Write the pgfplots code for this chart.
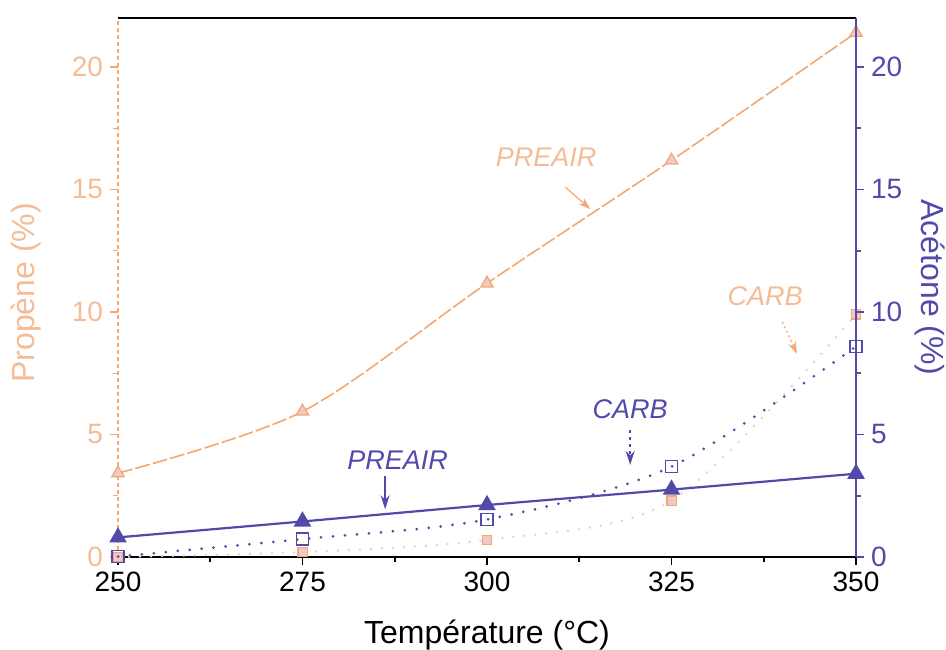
\documentclass[border=0pt]{standalone}
\usepackage{fontspec}
\setmainfont{Liberation Sans}
\usepackage{pgfplots}
\pgfplotsset{compat=1.18}
\usetikzlibrary{arrows.meta,calc}
\definecolor{lor}{RGB}{242,168,112}
\definecolor{lorl}{RGB}{244,188,150}
\definecolor{bl}{RGB}{82,74,170}
\definecolor{cpink}{RGB}{240,200,200}
\definecolor{cfaint}{RGB}{236,208,204}

\begin{document}
\begin{tikzpicture}
\pgfplotsset{
  every axis/.append style={
    scale only axis, width=369pt, height=269.5pt,
    xmin=250, xmax=350, ymin=0, ymax=22,
    clip=false,
    tick align=outside,
    major tick length=4pt, minor tick length=2.5pt,
    /pgf/number format/assume math mode=true,
    tick label style={font=\fontsize{14}{14}\selectfont},
    label style={font=\fontsize{16}{16}\selectfont},
  }
}
% ---------- left axis : Propene ----------
\begin{axis}[
  axis x line*=bottom, axis y line*=left,
  x axis line style={black, line width=1.2pt, -},
  y axis line style={lor, dash pattern=on 2pt off 1.5pt, line width=0.6pt, -},
  xtick={250,275,...,350}, minor x tick num=1,
  x tick style={black, line width=0.9pt},
  xticklabel style={black},
  ytick={0,5,...,20}, minor y tick num=1,
  y tick style={lor, line width=0.6pt},
  yticklabel style={lorl},
  xlabel={Température (°C)},
  xlabel style={at={(axis description cs:0.5,-0.145)}, anchor=center},
  ylabel={Propène (\%)},
  ylabel style={lorl, at={(axis description cs:-0.125,0.49)}, anchor=center, rotate=0},
]
\coordinate (bl) at (rel axis cs:0,0);
\coordinate (tr) at (rel axis cs:1,1);
% CARB (propene)
\addplot[cfaint, line width=1.4pt, line cap=round, dash pattern=on 0pt off 5.5pt, smooth,
  mark=square*, mark size=2.3pt, mark options={solid, fill=cpink, draw=lor, line width=0.6pt}]
  coordinates {(250,0.0) (275,0.2) (300,0.7) (325,2.3) (350,9.9)};
% PREAIR (propene)
\addplot[lor, line width=0.8pt, dash pattern=on 7.5pt off 1.5pt, smooth,
  mark=triangle*, mark size=3.6pt, mark options={solid, fill=cpink, draw=lor, line width=0.6pt}]
  coordinates {(250,3.42) (275,5.94) (300,11.17) (325,16.19) (350,21.4)};
% annotations
\node[lorl, font=\fontsize{13.5}{14}\selectfont\itshape] at (axis cs:308.0,16.3) {PREAIR};
\draw[lor, line width=0.6pt, -{Stealth[length=6pt,width=4pt]}] (axis cs:310.6,15.1) -- (axis cs:314.0,14.2);
\node[lorl, font=\fontsize{13.5}{14}\selectfont\itshape] at (axis cs:337.7,10.65) {CARB};
\draw[lor, line width=0.6pt, dash pattern=on 1pt off 1.5pt, -{Stealth[length=6pt,width=4pt]}] (axis cs:340.0,9.6) -- (axis cs:342.0,8.3);
\end{axis}
% ---------- right axis : Acetone ----------
\begin{axis}[
  axis x line*=top, axis y line*=right,
  x axis line style={black, line width=1pt, -},
  xtick=\empty,
  y axis line style={bl, line width=0.8pt, -},
  ytick={0,5,...,20}, minor y tick num=1,
  y tick style={bl, line width=0.8pt},
  yticklabel style={bl},
  ylabel={Acétone (\%)},
  ylabel style={bl, at={(axis description cs:1.1,0.5)}, anchor=center, rotate=180},
]
% CARB (acetone)
\addplot[bl, line width=1.5pt, line cap=round, dash pattern=on 0pt off 6pt, smooth,
  mark=square, mark size=3pt, mark options={solid, fill=white, draw=bl, line width=0.7pt}]
  coordinates {(250,0.02) (275,0.73) (300,1.53) (325,3.69) (350,8.59)};
% PREAIR (acetone)
\addplot[bl, line width=1.1pt, smooth,
  mark=triangle*, mark size=4pt, mark options={solid, fill=bl, draw=bl}]
  coordinates {(250,0.8) (275,1.45) (300,2.12) (325,2.75) (350,3.4)};
% annotations
\node[bl, font=\fontsize{13.5}{14}\selectfont\itshape] at (axis cs:287.9,3.94) {PREAIR};
\draw[bl, line width=0.8pt, -{Stealth[length=7pt,width=4.5pt]}] (axis cs:286.2,3.3) -- (axis cs:286.2,1.95);
\node[bl, font=\fontsize{13.5}{14}\selectfont\itshape] at (axis cs:319.4,6.04) {CARB};
\draw[bl, line width=0.8pt, dash pattern=on 1.5pt off 2pt, -{Stealth[length=7pt,width=4.5pt]}] (axis cs:319.4,5.18) -- (axis cs:319.4,3.76);
\end{axis}
\pgfresetboundingbox
\path ($(bl)+(-59pt,-46.5pt)$) rectangle ($(tr)+(45pt,9pt)$);
\end{tikzpicture}
\end{document}
